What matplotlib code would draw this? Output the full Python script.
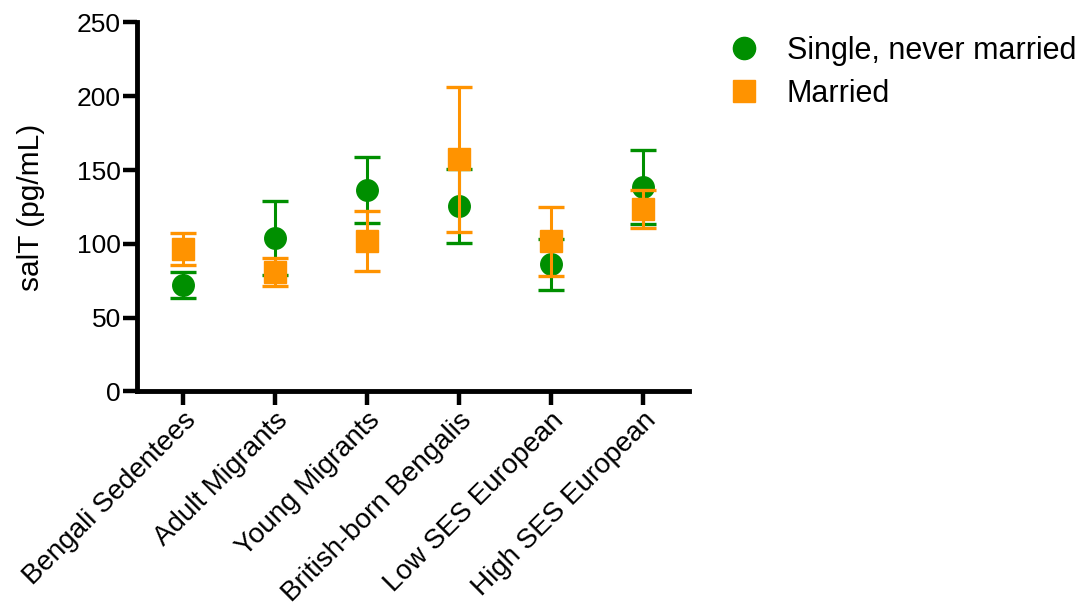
import matplotlib
matplotlib.use("Agg")
import matplotlib.pyplot as plt
from matplotlib.lines import Line2D
import numpy as np

plt.rcParams['font.family'] = ['Liberation Sans', 'DejaVu Sans']

# groups along the x axis
groups = ["Bengali Sedentees", "Adult Migrants", "Young Migrants",
          "British-born Bengalis", "Low SES European", "High SES European"]

# Single, never married: mean and error
single_mean = [72.3, 104, 136.5, 125.7, 86.2, 138.8]
single_err = [8.8, 25, 22.4, 25.3, 17.3, 25.1]

# Married: mean and error
married_mean = [96.4, 81, 101.7, 157.3, 101.7, 123.4]
married_err = [10.8, 9.5, 20.3, 49, 23.5, 12.8]

green = "#008f00"
orange = "#ff9300"

x = np.arange(len(groups))

fig = plt.figure(figsize=(10.78, 6.02), dpi=100)
ax = fig.add_axes([0.1271, 0.3497, 0.5121, 0.6130])

ax.errorbar(x, single_mean, yerr=single_err, fmt='o', color=green,
            markersize=15.5, elinewidth=2.2, capsize=9.3, capthick=2.4,
            clip_on=False, zorder=3)
ax.errorbar(x, married_mean, yerr=married_err, fmt='s', color=orange,
            markersize=15.5, elinewidth=2.2, capsize=9.3, capthick=2.4,
            clip_on=False, zorder=4)

ax.set_xlim(-0.5, 5.5)
ax.set_ylim(0, 250)
ax.set_yticks([0, 50, 100, 150, 200, 250])
ax.set_xticks(x)
ax.set_xticklabels(groups, rotation=45, ha='right', rotation_mode='anchor')

ax.spines['top'].set_visible(False)
ax.spines['right'].set_visible(False)
for s in ['left', 'bottom']:
    ax.spines[s].set_linewidth(3.5)
    ax.spines[s].set_capstyle('projecting')
ax.tick_params(axis='both', direction='out', length=10, width=3.2, pad=1.5)
ax.tick_params(axis='y', labelsize=19)
ax.tick_params(axis='x', labelsize=20)

ax.set_ylabel("salT (pg/mL)", fontsize=21.5, labelpad=23)

handles = [Line2D([], [], marker='o', color=green, linestyle='none', markersize=16),
           Line2D([], [], marker='s', color=orange, linestyle='none', markersize=16)]
fig.legend(handles, ["Single, never married", "Married"], loc='upper left',
           bbox_to_anchor=(0.676, 0.94), frameon=False, fontsize=22,
           handlelength=1.0, handletextpad=0.9, labelspacing=0.42,
           borderpad=0, borderaxespad=0)

fig.savefig("out.png", dpi=100)
